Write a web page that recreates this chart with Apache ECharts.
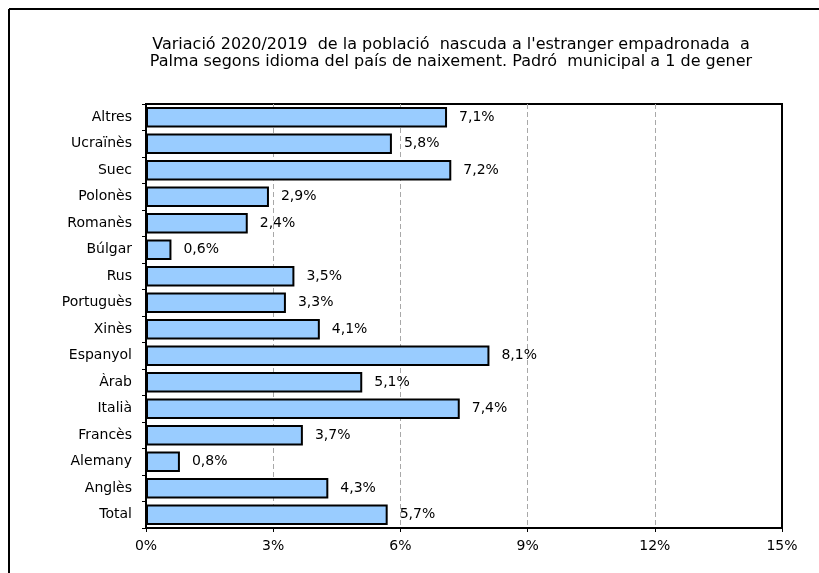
<!DOCTYPE html>
<html>
<head>
<meta charset="utf-8">
<script src="https://cdn.jsdelivr.net/npm/echarts@6/dist/echarts.min.js"></script>
<style>
    html, body { margin: 0; padding: 0; background: #fff; }
    #chart { width: 819px; height: 573px; }
</style>
</head>
<body>
<div id="chart"></div>
<script>
    // idiomes, de dalt a baix
    var idiomes = ['Altres', 'Ucraïnès', 'Suec', 'Polonès', 'Romanès', 'Búlgar', 'Rus', 'Portuguès',
        'Xinès', 'Espanyol', 'Àrab', 'Italià', 'Francès', 'Alemany', 'Anglès', 'Total']
    var variacio = [7.1, 5.8, 7.2, 2.9, 2.4, 0.6, 3.5, 3.3, 4.1, 8.1, 5.1, 7.4, 3.7, 0.8, 4.3, 5.7]
    var xTicks = [0, 3, 6, 9, 12, 15]

    var titol = 'Variació 2020/2019  de la població  nascuda a l\'estranger empadronada  a\n' +
        'Palma segons idioma del país de naixement. Padró  municipal a 1 de gener'

    var font = '"DejaVu Sans", Verdana, sans-serif'
    var chart = echarts.init(document.getElementById('chart'))

    chart.setOption({
        backgroundColor: '#fff',
        animation: false,
        title: {
            text: titol,
            left: 446,
            top: 31,
            textAlign: 'center',
            textStyle: {
                fontFamily: font,
                fontSize: 16,
                fontWeight: 'normal',
                color: '#000',
                lineHeight: 17
            }
        },
        grid: {
            left: 146,
            right: 37,
            top: 104,
            bottom: 45,
            show: true,
            borderColor: '#000',
            borderWidth: 2,
            backgroundColor: '#fff'
        },
        xAxis: {
            type: 'value',
            min: xTicks[0],
            max: xTicks[xTicks.length - 1],
            interval: 3,
            axisLine: { show: true, lineStyle: { color: '#000', width: 2 } },
            axisTick: { show: true, length: 4, lineStyle: { color: '#000', width: 1 } },
            axisLabel: {
                fontFamily: font,
                fontSize: 14,
                color: '#000',
                margin: 11,
                formatter: function (v) { return v + '%' }
            },
            splitLine: {
                show: true,
                lineStyle: { color: '#a8a8a8', type: [5, 3], width: 1 }
            }
        },
        yAxis: [{
            type: 'category',
            inverse: true,
            data: idiomes,
            axisLine: { show: true, lineStyle: { color: '#000', width: 2 } },
            axisTick: { show: true, length: 4, lineStyle: { color: '#000', width: 1 } },
            axisLabel: {
                fontFamily: font,
                fontSize: 14,
                color: '#000',
                margin: 14
            }
        }, {
            // vora dreta sòlida per damunt de la línia de 15%
            type: 'category',
            position: 'right',
            inverse: true,
            data: idiomes,
            z: 5,
            axisLine: { show: true, lineStyle: { color: '#000', width: 2 } },
            axisTick: { show: false },
            axisLabel: { show: false }
        }],
        series: [{
            type: 'bar',
            data: variacio,
            barCategoryGap: '22%',
            itemStyle: {
                color: '#99ccff',
                borderColor: '#000',
                borderWidth: 2
            },
            label: {
                show: true,
                position: 'right',
                distance: 12,
                fontFamily: font,
                fontSize: 14,
                color: '#000',
                formatter: function (p) { return p.value.toFixed(1).replace('.', ',') + '%' }
            }
        }],
        graphic: [
            { type: 'line', shape: { x1: 9, y1: 9, x2: 819, y2: 9 }, style: { stroke: '#000', lineWidth: 2 } },
            { type: 'line', shape: { x1: 9, y1: 9, x2: 9, y2: 573 }, style: { stroke: '#000', lineWidth: 2 } }
        ]
    })
</script>
</body>
</html>
